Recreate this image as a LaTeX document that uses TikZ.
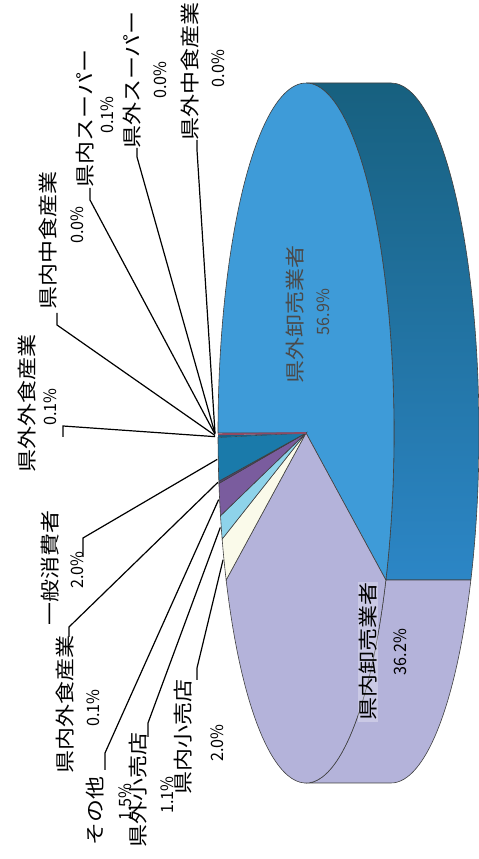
\documentclass[tikz,border=0pt]{standalone}
\usepackage{fontspec}
\setmainfont{Noto Sans CJK JP}
\usetikzlibrary{calc}
\definecolor{blueTop}{HTML}{3E9BD8}
\definecolor{sideTop}{HTML}{17607F}
\definecolor{sideBot}{HTML}{2C86C6}
\definecolor{lav}{HTML}{B4B3DA}
\definecolor{cream}{HTML}{FAFAEA}
\definecolor{cyanS}{HTML}{8ED3EA}
\definecolor{purp}{HTML}{7A5C9E}
\definecolor{teal}{HTML}{1A7AAA}
\definecolor{maroon}{HTML}{8E4A62}
\definecolor{inlab}{HTML}{4A4A4A}
\newcommand\pslice[3]{\filldraw[fill=#3, edge] (C) -- ($(C)+(#1:\rx pt and \ry pt)$) arc[start angle=#1, end angle=#2, x radius=\rx pt, y radius=\ry pt] -- cycle;}
\begin{document}
\begin{tikzpicture}[x=1pt,y=1pt,
  lab/.style={rotate=90, yscale=0.85, transform shape, inner sep=0pt, font=\fontsize{23}{23}\selectfont},
  pct/.style={rotate=90, xscale=0.95, transform shape, inner sep=0pt, font=\fontsize{17}{17}\selectfont},
  leader/.style={line width=1.2pt, black},
  edge/.style={draw=black!75, line width=0.6pt}]
\useasboundingbox (0,0) rectangle (479,859);
\def\rx{88}\def\ry{350}\def\dep{85}
\coordinate (C) at (306,426);
% side faces
\path[top color=sideTop, bottom color=sideBot, edge]
  ($(C)+(90:\rx pt and \ry pt)$) arc[start angle=90, end angle=-24.84, x radius=\rx pt, y radius=\ry pt]
  -- ++(\dep pt,0) arc[start angle=-24.84, end angle=90, x radius=\rx pt, y radius=\ry pt] -- cycle;
\filldraw[fill=lav, edge]
  ($(C)+(-24.84:\rx pt and \ry pt)$) arc[start angle=-24.84, end angle=-90, x radius=\rx pt, y radius=\ry pt]
  -- ++(\dep pt,0) arc[start angle=-90, end angle=-24.84, x radius=\rx pt, y radius=\ry pt] -- cycle;
% top face slices
\pslice{335.16}{540}{blueTop}
\pslice{204.84}{335.16}{lav}
\pslice{197.64}{204.84}{cream}
\pslice{193.68}{197.64}{cyanS}
\pslice{188.28}{193.68}{purp}
\pslice{187.92}{188.28}{purp!70!black}
\pslice{180.72}{187.92}{teal}
\fill[teal!80!black] (C) -- ($(C)+(180.36:\rx pt and \ry pt)$) arc[start angle=180.36, end angle=180.72, x radius=\rx pt, y radius=\ry pt] -- cycle;
\draw[maroon, line width=1.8pt] (C) -- ($(C)+(180.2:\rx pt and \ry pt)$);
% rim points for leaders
\coordinate (r1) at ($(C)+(180.0:\rx+3 and \ry)$);
\coordinate (r2) at ($(C)+(180.1:\rx+3 and \ry)$);
\coordinate (r3) at ($(C)+(180.2:\rx+3 and \ry)$);
\coordinate (r4) at ($(C)+(180.4:\rx+3 and \ry)$);
\coordinate (r5) at ($(C)+(180.6:\rx+3 and \ry)$);
\coordinate (r6) at ($(C)+(184.32:\rx+1 and \ry)$);
\coordinate (r7) at ($(C)+(188.1:\rx+1 and \ry)$);
\coordinate (r8) at ($(C)+(190.98:\rx+1 and \ry)$);
\coordinate (r9) at ($(C)+(195.66:\rx+1 and \ry)$);
\coordinate (r10) at ($(C)+(201.24:\rx+1 and \ry)$);
% leader ends
\coordinate (e1) at (197,709); \coordinate (t1) at (197,719);
\coordinate (e2) at (137,702); \coordinate (t2) at (137,711);
\coordinate (e3) at (90,659);  \coordinate (t3) at (90,671);
\coordinate (e4) at (57,534);  \coordinate (t4) at (57,546);
\coordinate (e5) at (63,433);  \coordinate (t5) at (63,422);
\coordinate (e6) at (83,321);  \coordinate (t6) at (83,302);
\coordinate (e7) at (69,232);  \coordinate (t7) at (69,222);
\coordinate (e8) at (105,106); \coordinate (t8) at (105,89);
\coordinate (e9) at (148,136); \coordinate (t9) at (148,122);
\coordinate (e10) at (197,191); \coordinate (t10) at (197,179);
\foreach \i in {1,...,10}{\draw[leader] (r\i) -- (e\i) -- (t\i);}
% labels
\node[lab] (n1) at (190,787.5) {県外中食産業};
\node[pct] (p1) at (218,790.5) {0.0\%};
\node[lab] (n2) at (132,779) {県外スーパー};
\node[pct] (p2) at (160,779) {0.0\%};
\node[lab] (n3) at (85,740.5) {県内スーパー};
\node[pct] (p3) at (107,744) {0.1\%};
\node[lab] (n4) at (48,618) {県内中食産業};
\node[pct] (p4) at (77,634) {0.0\%};
\node[lab] (n5) at (27,455.5) {県外外食産業};
\node[pct] (p5) at (50,452) {0.1\%};
\node[lab] (n6) at (50,291) {一般消費者};
\node[pct] (p6) at (77,289) {2.0\%};
\node[lab] (n7) at (65,154) {県内外食産業};
\node[pct] (p7) at (93,151) {0.1\%};
\node[lab] (n8) at (95,47.5) {その他};
\node[pct] (p8) at (125,57) {1.5\%};
\node[lab] (n9) at (138,69) {県外小売店};
\node[pct] (p9) at (167,64) {1.1\%};
\node[lab] (n10) at (183,122) {県内小売店};
\node[pct] (p10) at (217,116) {2.0\%};
\node[lab, text=inlab] (n11) at (295,544) {県外卸売業者};
\node[pct, text=inlab] (p11) at (323,547) {56.9\%};
\node[lab, text=black, fill=white, fill opacity=0.3, text opacity=1, inner sep=1pt] (n12) at (368,207) {県内卸売業者};
\node[pct, text=black] (p12) at (400,207) {36.2\%};
\end{tikzpicture}
\end{document}
